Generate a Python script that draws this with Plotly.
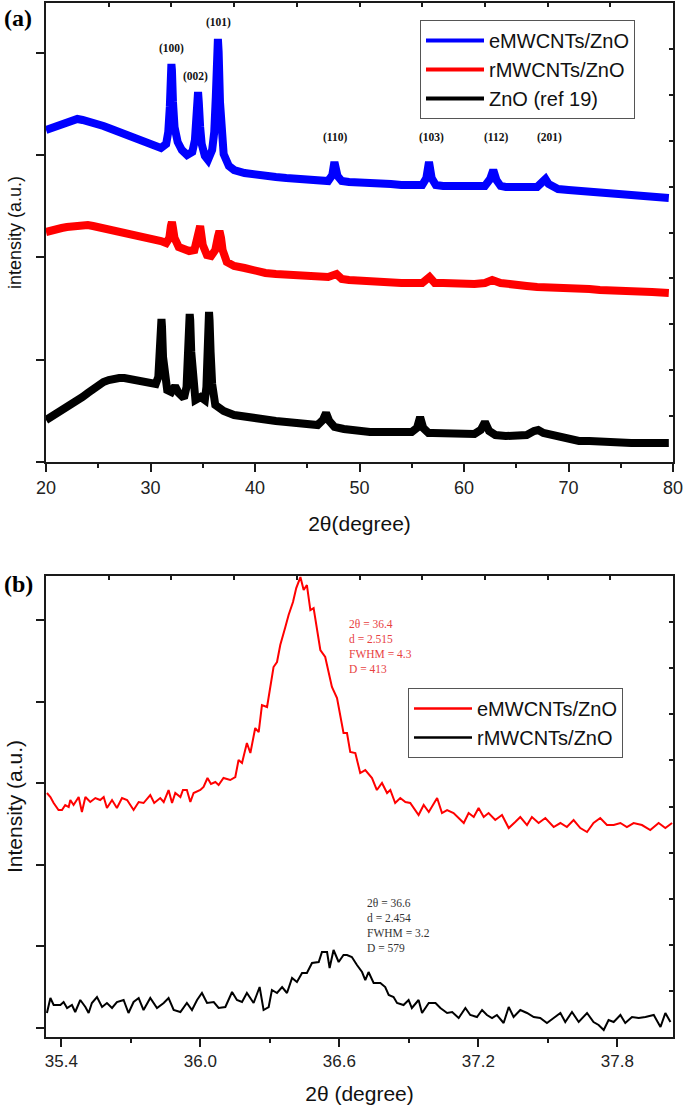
import plotly.graph_objects as go

# ---------------- Panel (a): XRD patterns ----------------
blue_x = [20.0, 20.5, 21, 21.5, 22, 22.5, 23, 23.5, 24, 24.5, 25, 25.5, 26, 26.5, 27, 27.5, 28, 28.5, 29, 29.5,
          30, 30.5, 31, 31.5, 31.7, 31.85, 31.95, 32.0, 32.05, 32.15, 32.3, 32.6, 33, 33.5, 34.0, 34.25, 34.4,
          34.5, 34.55, 34.62, 34.75, 34.9, 35.2, 35.5, 35.9, 36.1, 36.25, 36.38, 36.45, 36.52, 36.65, 36.8,
          37.0, 37.5, 38, 39, 40, 41, 42, 43, 44, 45, 46, 47, 47.4, 47.6, 47.9, 48.3, 49, 50, 51, 52, 53, 54,
          55, 56, 56.4, 56.65, 56.9, 57.3, 58, 59, 60, 61, 62, 62.5, 62.8, 63.1, 63.5, 64, 65, 66, 67, 67.5,
          67.8, 68.1, 68.6, 69, 70, 71, 72, 73, 74, 75, 76, 77, 78, 79.6]
blue_y = [332, 334, 336, 338, 340, 341, 343, 342, 341, 339, 338, 336, 334, 332, 329, 327, 325, 322, 320, 318,
          316, 315, 314, 318, 330, 355, 390, 398, 392, 360, 335, 320, 312, 307, 310, 322, 345,
          368, 370, 360, 335, 318, 306, 302, 312, 330, 365, 415, 423, 410, 360, 325,
          308, 296, 292, 289, 287, 286, 285, 284, 283, 282, 281, 281, 287, 300, 286, 281, 280, 280, 279, 278, 278, 277,
          277, 277, 284, 300, 284, 277, 276, 276, 275, 275, 276, 283, 292, 282, 276, 275, 275, 275, 275, 280,
          283, 278, 274, 273, 272, 271, 270, 269, 268, 267, 266, 266, 265, 264]

red_x = [20, 20.5, 21, 21.5, 22, 22.5, 23, 23.5, 24, 24.5, 25, 25.5, 26, 26.5, 27, 27.5, 28, 28.5, 29, 29.5,
         30, 30.5, 31, 31.5, 31.8, 31.95, 32.05, 32.15, 32.3, 32.7, 33.2, 33.7, 34.2, 34.5, 34.75, 35.0, 35.4,
         35.8, 36.2, 36.45, 36.6, 36.75, 36.9, 37.3, 38, 39, 40, 41, 42, 43, 44, 45, 46, 47, 47.8, 48.3, 49, 50,
         51, 52, 53, 54, 55, 56, 56.7, 57.2, 58, 59, 60, 61, 62, 62.7, 63.5, 64, 65, 66, 67, 68, 69, 70, 71,
         72, 73, 74, 75, 76, 77, 78, 79.6]
red_y = [230, 232, 233, 234, 235, 236, 237, 237, 237, 236, 235, 234, 233, 232, 231, 230, 229, 228, 227, 226,
         225, 223, 221, 219, 224, 236, 240, 234, 224, 215, 213, 211, 212, 222, 236, 217, 207,
         206, 212, 225, 231, 224, 212, 200, 196, 194, 191, 189, 188, 187, 187, 186, 185, 185, 188, 183, 182, 181,
         180, 180, 180, 179, 179, 179, 185, 179, 179, 178, 178, 178, 179, 182, 179, 178, 177, 176, 175, 175, 174, 174, 173,
         173, 172, 172, 171, 171, 170, 170, 169]

black_x = [20, 20.5, 21, 21.5, 22, 22.5, 23, 23.5, 24, 24.5, 25, 25.5, 26, 26.5, 27, 27.5, 28, 28.5, 29, 29.5,
           30, 30.5, 30.75, 30.9, 31.0, 31.05, 31.1, 31.2, 31.35, 31.6, 32.0, 32.35, 32.7, 33.2, 33.45, 33.6,
           33.72, 33.75, 33.8, 33.9, 34.05, 34.3, 34.8, 35.2, 35.35, 35.5, 35.58, 35.6, 35.65, 35.75, 35.9, 36.2,
           37, 38, 39, 40, 41, 42, 43, 44, 45, 46, 46.5, 46.8, 47.1, 47.6, 48.5, 49, 50, 51, 52, 53, 54, 55,
           55.5, 55.8, 56.1, 56.6, 57, 58, 59, 60, 61, 61.6, 62.0, 62.4, 63, 64, 65, 66, 66.7, 67.1, 67.6, 68,
           68.4, 69, 70, 71, 72, 73, 74, 75, 76, 77, 78, 79.6]
black_y = [42, 45, 48, 51, 54, 58, 62, 65, 69, 73, 77, 80, 82, 84, 84, 84, 83, 82, 80, 78,
           77, 78, 85, 110, 140, 143, 135, 105, 82, 72, 70, 76, 69, 64, 75, 110,
           145, 148, 142, 110, 80, 62, 65, 62, 75, 120, 148, 150, 142, 110, 78, 57,
           51, 47, 45, 43, 42, 41, 40, 39, 38, 37, 42, 49, 41, 35, 33, 32, 31, 30, 30, 30, 30, 30,
           34, 45, 34, 29, 29, 29, 29, 29, 28, 32, 40, 31, 27, 26, 26, 27, 31, 32, 29, 28,
           27, 24, 22, 21, 21, 20, 20, 20, 19, 19, 19, 19]

peak_labels = ["(100)", "(002)", "(101)", "(110)", "(103)", "(112)", "(201)"]
peak_label_x = [32.0, 34.3, 36.5, 47.7, 56.85, 63.1, 68.2]
peak_label_y = [414, 386, 440, 325, 325, 325, 325]

# ---------------- Panel (b): (101) peak detail ----------------
e_x = [35.338, 35.353, 35.367, 35.388, 35.403, 35.417, 35.432, 35.439, 35.453, 35.475, 35.489, 35.504, 35.525,
       35.547, 35.568, 35.583, 35.597, 35.619, 35.640, 35.662, 35.684, 35.712, 35.734, 35.755, 35.784, 35.801,
       35.827, 35.842, 35.863, 35.878, 35.892, 35.914, 35.925, 35.942, 35.957, 35.971, 36.000, 36.014, 36.031,
       36.046, 36.065, 36.079, 36.100, 36.129, 36.151, 36.165, 36.180, 36.201, 36.216, 36.237, 36.252, 36.266,
       36.288, 36.302, 36.316, 36.331, 36.345, 36.367, 36.381, 36.400, 36.414, 36.432, 36.446, 36.460, 36.475,
       36.489, 36.518, 36.539, 36.568, 36.590, 36.618, 36.633, 36.647, 36.669, 36.690, 36.712, 36.741, 36.762,
       36.784, 36.806, 36.820, 36.841, 36.863, 36.885, 36.906, 36.942, 36.964, 36.986, 37.022, 37.043, 37.065,
       37.093, 37.115, 37.137, 37.158, 37.180, 37.201, 37.223, 37.244, 37.273, 37.302, 37.331, 37.359, 37.381,
       37.410, 37.431, 37.460, 37.489, 37.525, 37.554, 37.582, 37.611, 37.640, 37.669, 37.697, 37.726, 37.755,
       37.784, 37.813, 37.841, 37.870, 37.906, 37.942, 37.978, 38.007, 38.036]
e_y = [235, 231, 225, 218, 218, 223, 221, 228, 223, 231, 216, 231, 226,
       230, 228, 231, 220, 228, 220, 230, 228, 218, 226, 225, 233, 225,
       230, 226, 238, 225, 235, 231, 238, 238, 226, 235, 238, 241, 250,
       244, 246, 243, 250, 248, 251, 268, 265, 285, 275, 300, 296, 323,
       321, 341, 361, 366, 383, 401, 413, 426, 440, 451, 438, 443, 418,
       420, 378, 371, 341, 330, 295, 295, 276, 275, 255, 258, 250, 238,
       245, 235, 238, 225, 230, 226, 225, 213, 223, 216, 230, 215, 218,
       215, 210, 205, 215, 211, 220, 211, 215, 208, 213, 200, 206, 211,
       203, 211, 205, 210, 201, 205, 201, 208, 200, 196, 205, 210, 203,
       203, 205, 201, 205, 203, 198, 205, 200, 205]

r_x = [35.338, 35.353, 35.367, 35.396, 35.410, 35.425, 35.446, 35.460, 35.482, 35.504, 35.518, 35.532, 35.554,
       35.576, 35.597, 35.619, 35.640, 35.669, 35.690, 35.712, 35.734, 35.755, 35.784, 35.813, 35.842, 35.863,
       35.885, 35.914, 35.942, 35.964, 35.986, 36.007, 36.029, 36.058, 36.079, 36.108, 36.137, 36.158, 36.180,
       36.201, 36.230, 36.256, 36.273, 36.295, 36.309, 36.331, 36.353, 36.374, 36.396, 36.417, 36.439, 36.460,
       36.482, 36.511, 36.525, 36.547, 36.558, 36.575, 36.597, 36.618, 36.633, 36.654, 36.676, 36.698, 36.712,
       36.726, 36.748, 36.777, 36.798, 36.813, 36.834, 36.849, 36.877, 36.899, 36.913, 36.942, 36.957, 36.986,
       37.015, 37.036, 37.065, 37.087, 37.115, 37.144, 37.165, 37.194, 37.216, 37.237, 37.259, 37.280, 37.309,
       37.331, 37.352, 37.381, 37.410, 37.439, 37.467, 37.496, 37.525, 37.554, 37.575, 37.604, 37.633, 37.669,
       37.697, 37.719, 37.741, 37.762, 37.784, 37.813, 37.834, 37.863, 37.892, 37.921, 37.957, 37.986, 38.007,
       38.029]
r_y = [15, 30, 23, 23, 26, 20, 23, 16, 28, 21, 15, 25, 31,
       21, 25, 20, 26, 28, 15, 26, 30, 18, 30, 20, 25, 30,
       18, 16, 25, 18, 28, 35, 25, 26, 20, 21, 36, 28, 26,
       35, 25, 41, 18, 21, 38, 35, 41, 35, 50, 46, 55, 55,
       65, 66, 76, 76, 60, 78, 66, 73, 73, 71, 63, 56, 48,
       56, 45, 45, 41, 33, 31, 25, 23, 28, 20, 28, 15, 25,
       25, 20, 15, 16, 10, 20, 13, 11, 18, 13, 10, 13, 5,
       21, 11, 18, 15, 11, 10, 5, 10, 15, 6, 16, 6, 15,
       6, 3, -2, 8, 6, 13, 5, 11, 10, 11, 13, 1, 15,
       6]

e_info = "2θ = 36.4<br>d = 2.515<br>FWHM = 4.3<br>D = 413"
r_info = "2θ = 36.6<br>d = 2.454<br>FWHM = 3.2<br>D = 579"

SANS = "Liberation Sans, Arial, sans-serif"
SERIF = "Liberation Serif, Times New Roman, serif"
AX = "#1a1a1a"

fig = go.Figure()


def add_series(x, y, name, color, width, xa, ya, leg, legw):
    fig.add_trace(go.Scatter(x=x, y=y, mode="lines", name=name, legendgroup=leg + name, showlegend=False,
                             line=dict(color=color, width=width), xaxis=xa, yaxis=ya))
    # legend entry (same series, thinner sample line as in the original legend)
    fig.add_trace(go.Scatter(x=[None], y=[None], mode="lines", name=name, legendgroup=leg + name,
                             line=dict(color=color, width=legw), xaxis=xa, yaxis=ya, legend=leg,
                             hoverinfo="skip"))


add_series(blue_x, blue_y, "eMWCNTs/ZnO", "#0000ff", 8, "x", "y", "legend", 4)
add_series(red_x, red_y, "rMWCNTs/ZnO", "#ff0000", 8, "x", "y", "legend", 4)
add_series(black_x, black_y, "ZnO (ref 19)", "#000000", 8, "x", "y", "legend", 4)
add_series(e_x, e_y, "eMWCNTs/ZnO", "#ff0000", 2, "x3", "y3", "legend2", 2.5)
add_series(r_x, r_y, "rMWCNTs/ZnO", "#000000", 2, "x3", "y3", "legend2", 2.5)

# placeholder traces so that the secondary (top / right) tick axes are drawn
fig.add_trace(go.Scatter(x=[None], y=[None], xaxis="x2", yaxis="y2", showlegend=False, hoverinfo="skip"))
fig.add_trace(go.Scatter(x=[None], y=[None], xaxis="x4", yaxis="y4", showlegend=False, hoverinfo="skip"))

dom_a = [0.5561, 1.0]
dom_b = [0.0, 0.4458]

common = dict(showgrid=False, zeroline=False, showline=True, linecolor=AX, linewidth=2,
              tickcolor=AX, tickwidth=1.5, automargin=False)
sec = dict(common, visible=True, ticks="inside", ticklen=4, showticklabels=False, range=[0, 10], dtick=1)

annotations = []
for t, x, y in zip(peak_labels, peak_label_x, peak_label_y):
    annotations.append(dict(x=x, y=y, xref="x", yref="y", text="<b>" + t + "</b>", showarrow=False,
                            font=dict(family=SERIF, size=11.5, color="#111")))
annotations.append(dict(x=35.334 + (347 - 46) / 231.7, y=1028 - 616, xref="x3", yref="y3", text=e_info,
                        showarrow=False, xanchor="left", yanchor="top", align="left",
                        font=dict(family=SERIF, size=11.5, color="#e8413f")))
annotations.append(dict(x=35.334 + (365 - 46) / 231.7, y=1028 - 895, xref="x3", yref="y3", text=r_info,
                        showarrow=False, xanchor="left", yanchor="top", align="left",
                        font=dict(family=SERIF, size=11.5, color="#333333")))
annotations.append(dict(x=(2 - 46) / 627, y=(1037 - 18) / 1034, xref="paper", yref="paper", text="<b>(a)</b>",
                        showarrow=False, xanchor="left", yanchor="middle",
                        font=dict(family=SERIF, size=24, color="#000")))
annotations.append(dict(x=(2 - 46) / 627, y=(1037 - 584) / 1034, xref="paper", yref="paper", text="<b>(b)</b>",
                        showarrow=False, xanchor="left", yanchor="middle",
                        font=dict(family=SERIF, size=24, color="#000")))

fig.update_layout(
    width=685, height=1107,
    margin=dict(l=46, r=12, t=3, b=70, autoexpand=False),
    paper_bgcolor="white", plot_bgcolor="white",
    font=dict(family=SANS, color="#111"),
    xaxis=dict(common, domain=[0, 1], anchor="y", range=[20, 80], tick0=20, dtick=10,
               ticks="outside", ticklen=8,
               minor=dict(ticks="outside", ticklen=4, dtick=5, tick0=20, tickcolor=AX, tickwidth=1.5),
               tickfont=dict(family=SANS, size=18, color="#222"),
               title=dict(text="2θ(degree)", font=dict(family=SANS, size=21, color="#111"), standoff=20)),
    xaxis2=dict(sec, overlaying="x", anchor="y", side="top"),
    yaxis=dict(common, domain=dom_a, anchor="x", range=[0, 459], tick0=0, dtick=102.3,
               ticks="outside", ticklen=8, showticklabels=False,
               title=dict(text="intensity (a.u.)", font=dict(family=SANS, size=18, color="#111"), standoff=10)),
    yaxis2=dict(sec, overlaying="y", anchor="x", side="right"),
    xaxis3=dict(common, domain=[0, 1], anchor="y3", range=[35.334, 38.04], tick0=35.4, dtick=0.6,
                tickformat=".1f", ticks="outside", ticklen=8,
                minor=dict(ticks="outside", ticklen=4, dtick=0.3, tick0=35.4, tickcolor=AX, tickwidth=1.5),
                tickfont=dict(family=SANS, size=17, color="#222"),
                title=dict(text="2θ (degree)", font=dict(family=SANS, size=21, color="#111"), standoff=16)),
    xaxis4=dict(sec, overlaying="x3", anchor="y3", side="top"),
    yaxis3=dict(common, domain=dom_b, anchor="x3", range=[-9, 452], tick0=0, dtick=81.6,
                ticks="outside", ticklen=8, showticklabels=False,
                title=dict(text="Intensity (a.u.)", font=dict(family=SANS, size=21, color="#111"), standoff=8)),
    yaxis4=dict(sec, overlaying="y3", anchor="x3", side="right"),
    legend=dict(x=(420 - 46) / 627, y=(1037 - 20) / 1034, xanchor="left", yanchor="top",
                bgcolor="white", bordercolor="#555", borderwidth=1, itemwidth=58,
                font=dict(family=SANS, size=20, color="#111"), tracegroupgap=0),
    legend2=dict(x=(408 - 46) / 627, y=(1037 - 688) / 1034, xanchor="left", yanchor="top",
                 bgcolor="white", bordercolor="#555", borderwidth=1, itemwidth=58,
                 font=dict(family=SANS, size=20, color="#111"), tracegroupgap=0),
    annotations=annotations,
    showlegend=True,
)

fig.write_html("out.html", config={"displayModeBar": False},
               post_script="document.body.style.margin='0px';")
